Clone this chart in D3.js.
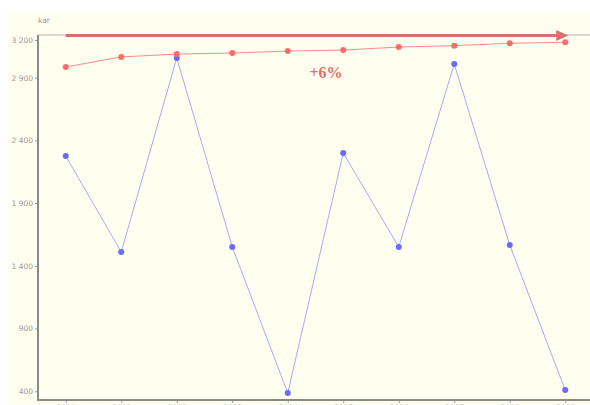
<!DOCTYPE html>
<html>
<head>
<meta charset="utf-8">
<script src="https://cdn.jsdelivr.net/npm/d3@7"></script>
<style>
  html, body { margin: 0; padding: 0; background: #fff; overflow: hidden; }
  svg { display: block; }
</style>
</head>
<body>
<svg id="chart" width="590" height="405"></svg>
<script>
// данные графика
const years = ["2010", "2011", "2012", "2013", "2014", "2015", "2016", "2017", "2018", "2019"];
const trendValues = [2985, 3065, 3088, 3096, 3112, 3120, 3144, 3155, 3174, 3182];
const mainValues = [2275, 1510, 3057, 1550, 385, 2299, 1550, 3009, 1565, 409];
const yTicks = [400, 900, 1400, 1900, 2400, 2900, 3200];
const yLabel = "kar";
const growthLabel = "+6%";

const W = 590, H = 405;
const mLeft = 38, mTop = 35, mBottom = 400;

const svg = d3.select("#chart");

// фон панели
svg.append("rect").attr("x", 8).attr("y", 12).attr("width", W - 8).attr("height", H - 12)
  .attr("fill", "#fffff0");

const x = d3.scalePoint().domain(years).range([mLeft, 593]).padding(0.5);
const y = d3.scaleLinear().domain([330, 3240]).range([mBottom, mTop]);

const fmt = d => d3.format(",")(d).replace(/,/g, " ");

// ось Y
const yAxis = svg.append("g").attr("transform", `translate(${mLeft},0)`)
  .call(d3.axisLeft(y).tickValues(yTicks).tickSize(3).tickPadding(2).tickFormat(fmt));
yAxis.select(".domain").remove();
yAxis.selectAll(".tick line").attr("stroke", "#999");
yAxis.selectAll("text").attr("fill", "#999").style("font", "7.5px 'DejaVu Sans', sans-serif");

// ось X (подписи обрезаны краем, как в оригинале)
const xAxis = svg.append("g").attr("transform", `translate(0,${mBottom})`)
  .call(d3.axisBottom(x).tickSize(3).tickPadding(2));
xAxis.select(".domain").remove();
xAxis.selectAll(".tick line").attr("stroke", "#999");
xAxis.selectAll("text").attr("fill", "#aaa").style("font", "7.5px 'DejaVu Sans', sans-serif");

// рамка: левая, нижняя и верхняя линии
svg.append("line").attr("x1", mLeft).attr("x2", mLeft).attr("y1", mTop).attr("y2", mBottom + 1)
  .attr("stroke", "#8a8a8a").attr("stroke-width", 2);
svg.append("line").attr("x1", mLeft).attr("x2", W).attr("y1", mBottom).attr("y2", mBottom)
  .attr("stroke", "#8a8a8a").attr("stroke-width", 2);
svg.append("line").attr("x1", mLeft).attr("x2", W).attr("y1", mTop).attr("y2", mTop)
  .attr("stroke", "#b0b0b0").attr("stroke-width", 1);

svg.append("text").attr("x", mLeft).attr("y", 23).text(yLabel)
  .attr("fill", "#999").style("font", "7.5px 'DejaVu Sans', sans-serif");

// стрелка тренда
const ax0 = x(years[0]), ax1 = x(years[years.length - 1]) + 3;
svg.append("line").attr("x1", ax0).attr("x2", ax1 - 11).attr("y1", mTop + 0.5).attr("y2", mTop + 0.5)
  .attr("stroke", "#d97070").attr("stroke-width", 3);
svg.append("path")
  .attr("d", `M${ax1 - 12},${mTop + 0.5 - 5.5}L${ax1},${mTop + 0.5}L${ax1 - 12},${mTop + 0.5 + 5.5}Z`)
  .attr("fill", "#d97070");

const line = d3.line().x((d, i) => x(years[i])).y(d => y(d));

// синяя серия
svg.append("path").datum(mainValues).attr("d", line)
  .attr("fill", "none").attr("stroke", "#a8a8ff").attr("stroke-width", 1);
svg.selectAll(".pt-main").data(mainValues).enter().append("circle")
  .attr("class", "pt-main").attr("cx", (d, i) => x(years[i])).attr("cy", d => y(d)).attr("r", 3)
  .attr("fill", "#6a6aff");

// красная серия
svg.append("path").datum(trendValues).attr("d", line)
  .attr("fill", "none").attr("stroke", "#ff8a8a").attr("stroke-width", 1);
svg.selectAll(".pt-trend").data(trendValues).enter().append("circle")
  .attr("class", "pt-trend").attr("cx", (d, i) => x(years[i])).attr("cy", d => y(d)).attr("r", 3)
  .attr("fill", "#ff6b6b");

svg.append("text").attr("x", 326).attr("y", 78).attr("text-anchor", "middle").text(growthLabel)
  .attr("fill", "#f06a6a").style("font", "bold 16px 'Liberation Serif', serif");
</script>
</body>
</html>
